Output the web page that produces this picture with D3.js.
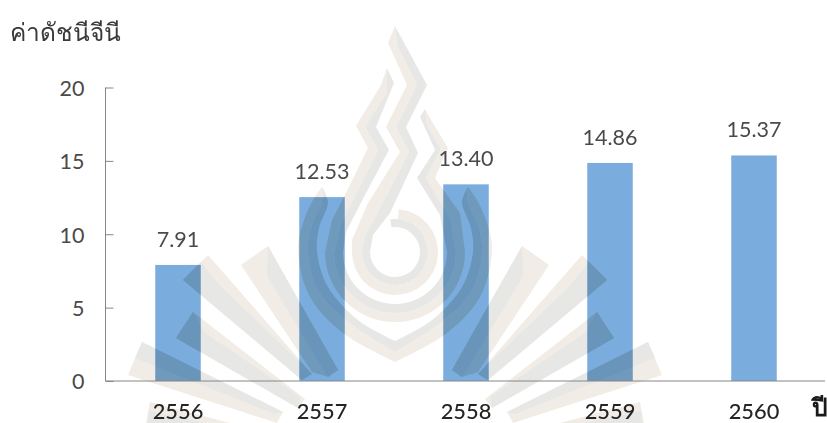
<!DOCTYPE html>
<html>
<head>
<meta charset="utf-8">
<script src="https://cdnjs.cloudflare.com/ajax/libs/d3/7.8.5/d3.min.js"></script>
<style>
html,body{margin:0;padding:0;background:#fff}
svg{display:block}
text{font-family:Lato,"Open Sans","Noto Sans",sans-serif}
</style>
</head>
<body>
<svg id="c" width="827" height="423"></svg>
<script>
const years = ["2556","2557","2558","2559","2560"];
const giniValues = [7.91,12.53,13.40,14.86,15.37];
const yTicks = [0,5,10,15,20];
const yTitle = "ค่าดัชนีจีนี";
const xTitle = "ปี";

const svg = d3.select("#c");
const x = d3.scaleBand().domain(years).range([106,826]).paddingInner(.684).paddingOuter(.342);
const y = d3.scaleLinear().domain([0,20]).range([381,87.5]);

svg.selectAll("rect.bar").data(years).join("rect").attr("class","bar")
  .attr("x",d=>x(d)).attr("width",x.bandwidth())
  .attr("y",(d,i)=>y(giniValues[i])).attr("height",(d,i)=>y(0)-y(giniValues[i]))
  .attr("fill","#7aaddd");

svg.append("clipPath").attr("id","barsClip").selectAll("rect").data(years).join("rect")
  .attr("x",d=>x(d)).attr("width",x.bandwidth())
  .attr("y",(d,i)=>y(giniValues[i])).attr("height",(d,i)=>y(0)-y(giniValues[i]));

// Watermark emblem (decorative, sits over the bars)
const GRAY="#e7e7e5", BEIGE="#f1ece6";
const wm = svg.append("g").style("mix-blend-mode","multiply");
const wmInner = wm.append("g").attr("id","emblem").style("isolation","isolate");
const mir = pts=>pts.map(p=>[790-p[0],p[1]]);
const straight=d3.line(), smooth=d3.line().curve(d3.curveCatmullRom.alpha(.5));
const poly=(pts,fill)=>wmInner.append("path").attr("d",straight(pts)+"Z").attr("fill",fill);
const both=(pts,fill)=>{poly(pts,fill);poly(mir(pts),fill);};
const band=(a,b,fill)=>wmInner.append("path")
  .attr("d",smooth(a)+"L"+smooth(b.slice().reverse()).slice(1)+"Z").attr("fill",fill);
const bandBoth=(a,b,fill)=>{band(a,b,fill);band(mir(a),mir(b),fill);};

// rays
both([[142,342],[128,375],[277,423],[283,412]],BEIGE);
both([[142,342],[135,358],[275,414],[283,412]],GRAY);
both([[150,402],[146,423],[230,423]],BEIGE);
both([[149,411],[148,423],[205,423]],GRAY);
both([[208,255],[183,280],[302,380],[312,374]],BEIGE);
both([[183,280],[201,262],[222,288],[312,374],[302,380]],GRAY);
both([[193,312],[176,338],[298,408],[305,399]],BEIGE);
both([[193,312],[176,338],[298,408],[300,397],[205,333]],GRAY);
both([[268,246],[241,265],[312,372],[328,377],[338,370]],BEIGE);
both([[268,246],[267,276],[328,377],[338,370]],GRAY);

// rings
const ring=(r,w,col,a0,a1)=>wmInner.append("path")
  .attr("d",d3.arc()({innerRadius:r-w/2,outerRadius:r+w/2,startAngle:a0,endAngle:a1}))
  .attr("transform","translate(395,252)").attr("fill",col);
const D=Math.PI/180;
ring(38,10,BEIGE,5*D,270*D);
ring(29,8,GRAY,-8*D,270*D);
ring(65.5,9,BEIGE,90*D,270*D);
ring(56.5,9,GRAY,90*D,270*D);

// central flame (into inner ring)
poly([[395,26],[388,43],[407,85],[386,127],[400,152],[368,203],[352,240],[352,252],[362,252],[364,238],[380,208],[409,152],[396,127],[417,85],[397,45]],BEIGE);
poly([[395,26],[397,45],[417,85],[396,127],[409,152],[380,208],[364,238],[362,252],[370,252],[373,235],[390,213],[418,153],[406,127],[427,85]],GRAY);
// left flame (into second ring)
poly([[387,68],[381,85],[356,126],[368,148],[350,185],[332,220],[325,252],[334.5,252],[341,224],[358,190],[378,150],[365,127],[387,92]],BEIGE);
poly([[387,68],[387,92],[365,127],[378,150],[358,190],[341,224],[334.5,252],[343,252],[346,232],[365,195],[389,150],[376,127],[394,83]],GRAY);
// right flame (into second ring)
poly([[425,109],[431,120],[448,148],[435,178],[460,213],[465,252],[455.5,252],[451,220],[426,178],[441,149],[427,125]],BEIGE);
poly([[425,109],[420,117],[435,150],[417,178],[440,215],[447,252],[455.5,252],[451,220],[426,178],[441,149],[427,125]],GRAY);

// outer bands with small flames and pointed bottom
const outerB=[[322,187],[313,200],[303,223],[298,250],[310,297],[343,333],[395,362]];
const midB=[[322,187],[322,202],[312,225],[308,252],[319,292],[351,324],[395,352]];
const innerB=[[322,187],[328,202],[319,228],[317,252],[328,287],[358,320],[395,341]];
bandBoth(outerB,midB,BEIGE);
bandBoth(midB,innerB,GRAY);

// second, faint pass over the bars only: the emblem reads darker there
svg.append("g").attr("clip-path","url(#barsClip)")
  .style("mix-blend-mode","multiply").style("opacity",.55)
  .append("use").attr("href","#emblem");

// axes
const yAxis = d3.axisLeft(y).tickValues(yTicks).tickSize(-8).tickPadding(21);
const gy = svg.append("g").attr("transform","translate(105.5,0)").call(yAxis);
gy.selectAll("path,line").attr("stroke","#868686").attr("stroke-width",1);
gy.select(".domain").attr("d","M0,87.5V381");
gy.selectAll("text").attr("fill","#4a4a4a").style("font-size","21.5px").attr("dy",".36em");

const xAxis = d3.axisBottom(x).tickSize(0);
const gx = svg.append("g").attr("transform","translate(0,381)").call(xAxis);
gx.select(".domain").attr("stroke","#868686").attr("d","M105.5,0H825");
gx.selectAll("text").attr("fill","#242424").style("font-size","21.8px").style("font-weight",500).attr("y",37.5).attr("dy",0);

// value labels
svg.selectAll("text.val").data(years).join("text").attr("class","val")
  .attr("x",d=>x(d)+x.bandwidth()/2).attr("y",(d,i)=>y(giniValues[i])-18)
  .attr("text-anchor","middle").attr("fill","#4a4a4a").style("font-size","21.5px")
  .text((d,i)=>giniValues[i].toFixed(2));

svg.append("text").attr("x",10).attr("y",41).attr("fill","#3a3a3a")
  .style("font-size","24.5px").style("font-weight",500).text(yTitle);
svg.append("text").attr("x",812).attr("y",416).attr("fill","#1a1a1a")
  .style("font-size","24.5px").style("font-weight",700).text(xTitle);
</script>
</body>
</html>
